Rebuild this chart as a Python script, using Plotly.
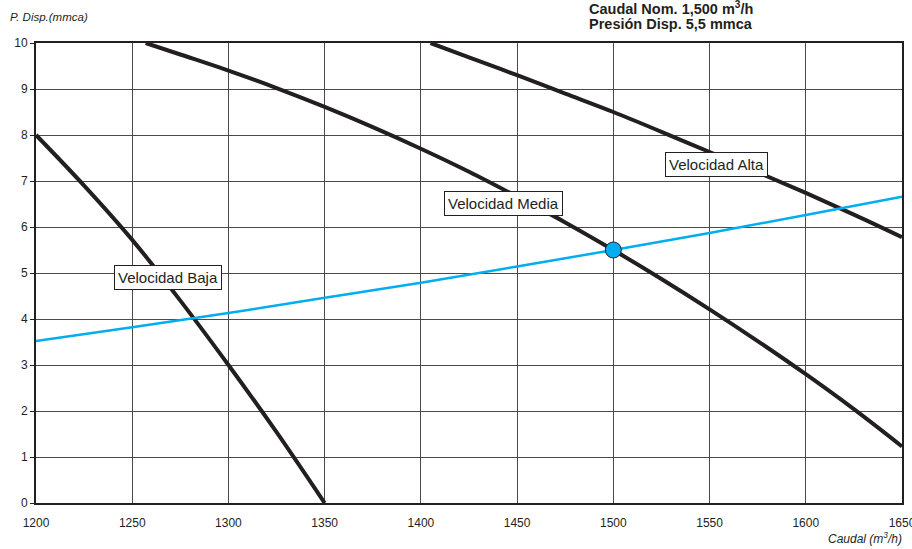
import plotly.graph_objects as go

# Fan curves: available pressure (mmca) vs flow (m3/h)
baja_x = [1200, 1225, 1250, 1275, 1300, 1325, 1350]
baja_y = [8.0, 6.9, 5.72, 4.4, 3.0, 1.54, 0.0]

media_x = [1257, 1275, 1300, 1325, 1350, 1375, 1400, 1425, 1450, 1475, 1500, 1525, 1550, 1575, 1600, 1625, 1650]
media_y = [10.0, 9.75, 9.4, 9.02, 8.61, 8.17, 7.7, 7.2, 6.66, 6.1, 5.5, 4.87, 4.21, 3.52, 2.8, 2.04, 1.23]

alta_x = [1405, 1425, 1450, 1475, 1500, 1525, 1550, 1575, 1600, 1625, 1650]
alta_y = [10.0, 9.69, 9.3, 8.9, 8.5, 8.07, 7.63, 7.19, 6.74, 6.27, 5.78]

# Installation (system) curve
sist_x = [1200, 1250, 1300, 1350, 1400, 1450, 1500, 1550, 1600, 1650]
sist_y = [3.52, 3.82, 4.13, 4.46, 4.79, 5.14, 5.5, 5.87, 6.26, 6.66]

# Nominal operating point
punto_x = [1500]
punto_y = [5.5]

x_ticks = [1200, 1250, 1300, 1350, 1400, 1450, 1500, 1550, 1600, 1650]
y_ticks = list(range(0, 11))

curve_labels = [
    ("Velocidad Baja", 1268.6, 4.91),
    ("Velocidad Media", 1443.0, 6.52),
    ("Velocidad Alta", 1553.4, 7.36),
]

header_lines = ["Caudal Nom. 1,500 m<sup>3</sup>/h", "Presión Disp. 5,5 mmca"]

DARK = "#231f20"
BLUE = "#00aeef"
FONT = "Liberation Sans, Arial, sans-serif"

fig = go.Figure()

for xs, ys in [(baja_x, baja_y), (media_x, media_y), (alta_x, alta_y)]:
    fig.add_trace(go.Scatter(x=xs, y=ys, mode="lines",
                             line=dict(color=DARK, width=4, shape="spline", smoothing=1.0),
                             hoverinfo="skip"))

fig.add_trace(go.Scatter(x=sist_x, y=sist_y, mode="lines",
                         line=dict(color=BLUE, width=2.5, shape="spline", smoothing=1.0),
                         hoverinfo="skip"))

fig.add_trace(go.Scatter(x=punto_x, y=punto_y, mode="markers",
                         marker=dict(size=16, color=BLUE, line=dict(color=DARK, width=1)),
                         hoverinfo="skip", cliponaxis=False))

annotations = []
for text, ax_x, ax_y in curve_labels:
    annotations.append(dict(x=ax_x, y=ax_y, xref="x", yref="y", text=text, showarrow=False,
                            font=dict(family=FONT, size=15, color=DARK),
                            bgcolor="white", bordercolor=DARK, borderwidth=1, borderpad=3))

annotations.append(dict(x=-0.0323, y=1.0565, xref="paper", yref="paper",
                        text="<i>P. Disp.(mmca)</i>", showarrow=False,
                        xanchor="left", yanchor="middle",
                        font=dict(family=FONT, size=11.5, color=DARK)))
annotations.append(dict(x=1.002, y=-0.076, xref="paper", yref="paper",
                        text="<i>Caudal (m<sup>3</sup>/h)</i>", showarrow=False,
                        xanchor="right", yanchor="middle",
                        font=dict(family=FONT, size=12, color=DARK)))

# Two-line header placed line by line for tight spacing
for i, line in enumerate(header_lines):
    annotations.append(dict(x=0.636, y=(503 - (8 + 16 * i)) / 460, xref="paper", yref="paper",
                            xanchor="left", yanchor="middle", align="left",
                            text="<b>" + line + "</b>", showarrow=False,
                            font=dict(family=FONT, size=14.5, color=DARK)))

fig.update_layout(
    width=912, height=549,
    margin=dict(l=36, r=10, t=43, b=46, autoexpand=False),
    plot_bgcolor="white", paper_bgcolor="white",
    showlegend=False,
    annotations=annotations,
    font=dict(family=FONT, size=12, color=DARK),
)

fig.update_xaxes(range=[1200, 1650], tickvals=x_ticks, showgrid=True, gridcolor="#4a4a4a", gridwidth=1,
                 showline=True, linecolor=DARK, linewidth=2, mirror=True, zeroline=False,
                 ticks="", ticklabelstandoff=8, ticklabeloverflow="allow", automargin=False,
                 tickfont=dict(size=12))
fig.update_yaxes(range=[0, 10], tickvals=y_ticks, showgrid=True, gridcolor="#4a4a4a", gridwidth=1,
                 showline=True, linecolor=DARK, linewidth=2, mirror=True, zeroline=False,
                 ticks="outside", ticklen=4, tickcolor=DARK, automargin=False, tickfont=dict(size=12))

fig.write_html("out.html")
